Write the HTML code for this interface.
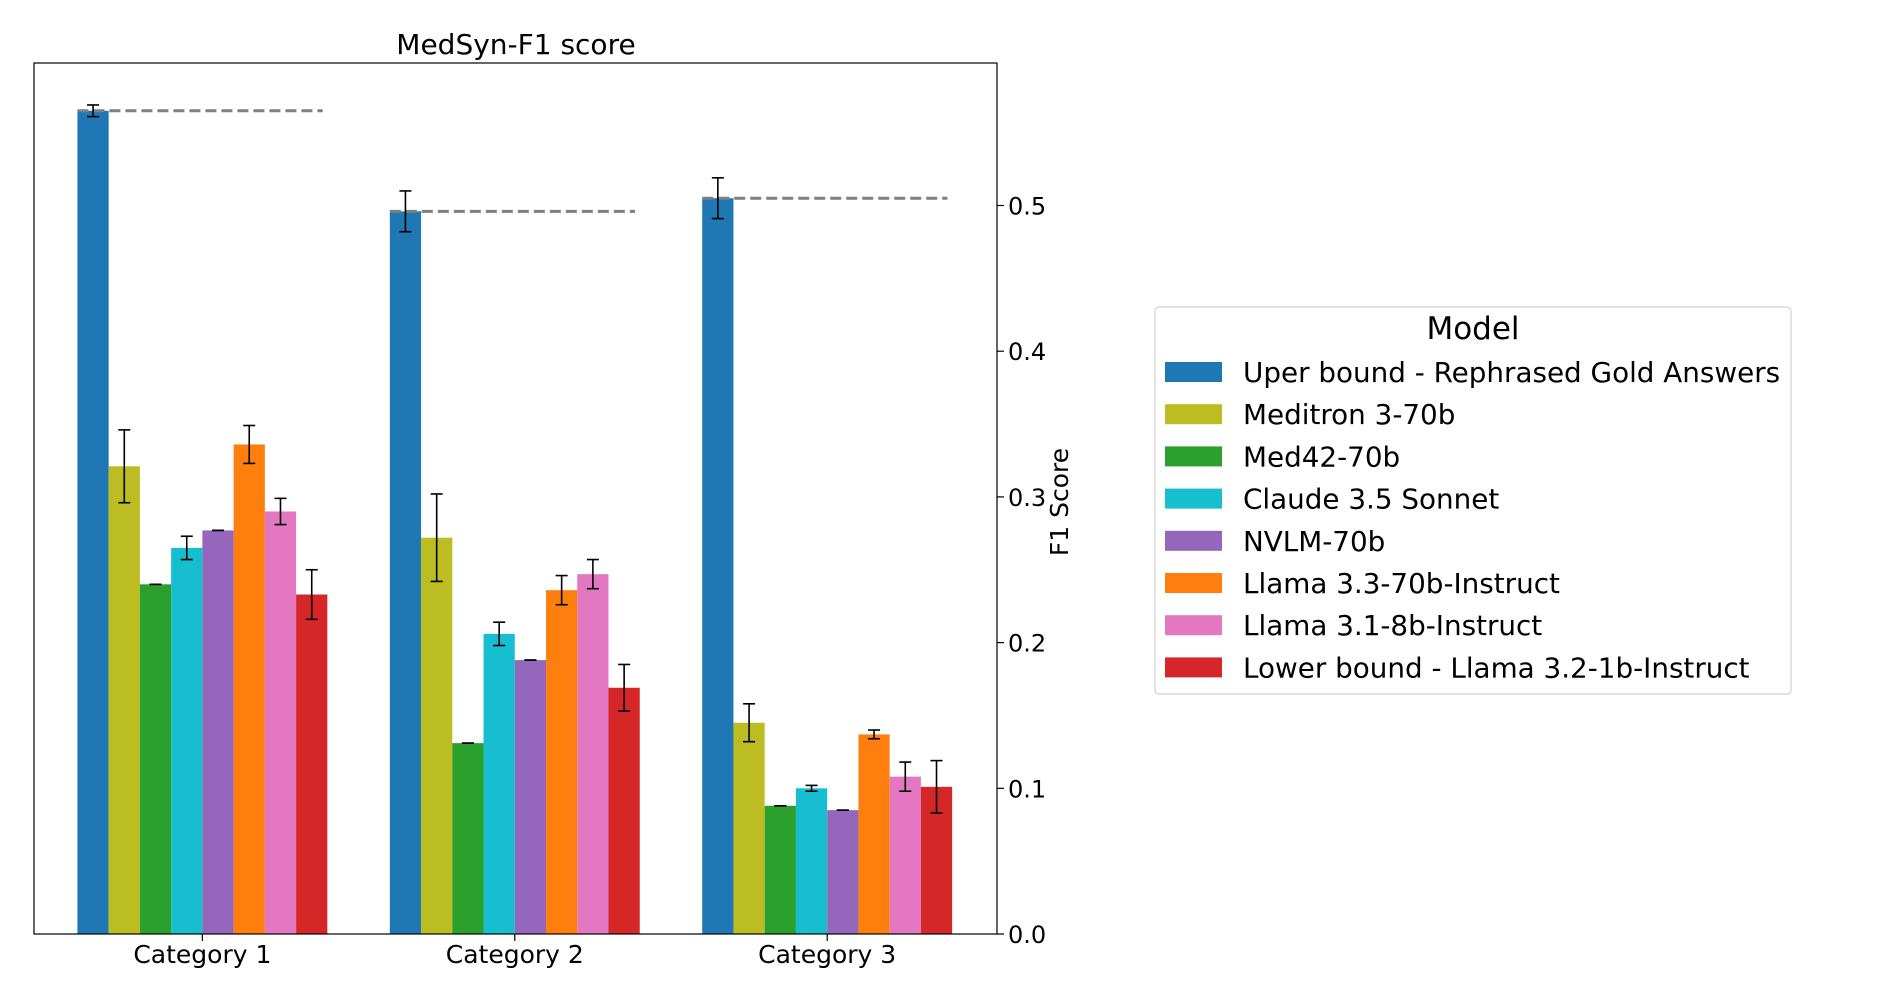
<!DOCTYPE html>
<html><head><meta charset="utf-8"><style>
body{margin:0;background:#fff;}
svg text{font-family:"DejaVu Sans","Liberation Sans",sans-serif;fill:#000;}
</style></head><body>
<svg id="chart" width="1900" height="1000" viewBox="0 0 1900 1000" xmlns="http://www.w3.org/2000/svg">
<text x="516" y="54" text-anchor="middle" font-size="28">MedSyn-F1 score</text>
<g id="bars"></g>
<g id="axes"></g>
<text transform="translate(1068,502) rotate(-90)" text-anchor="middle" font-size="25">F1 Score</text>
<g id="legend"></g>
</svg>
<script>
const categories = ["Category 1","Category 2","Category 3"];
const models = ["Uper bound - Rephrased Gold Answers","Meditron 3-70b","Med42-70b","Claude 3.5 Sonnet","NVLM-70b","Llama 3.3-70b-Instruct","Llama 3.1-8b-Instruct","Lower bound - Llama 3.2-1b-Instruct"];
const colors = ["#1f77b4","#bcbd22","#2ca02c","#17becf","#9467bd","#ff7f0e","#e377c2","#d62728"];
const valuesCat1 = [0.565,0.321,0.240,0.265,0.277,0.336,0.290,0.233];
const valuesCat2 = [0.496,0.272,0.131,0.206,0.188,0.236,0.247,0.169];
const valuesCat3 = [0.505,0.145,0.088,0.100,0.085,0.137,0.108,0.101];
const errCat1 = [0.004,0.025,0,0.008,0,0.013,0.009,0.017];
const errCat2 = [0.014,0.030,0,0.008,0,0.010,0.010,0.016];
const errCat3 = [0.014,0.013,0,0.002,0,0.003,0.010,0.018];
const yTicks = [0.0,0.1,0.2,0.3,0.4,0.5];
const yTickLabels = ["0.0","0.1","0.2","0.3","0.4","0.5"];

const values=[valuesCat1,valuesCat2,valuesCat3], errs=[errCat1,errCat2,errCat3];
const L=34,R=997,T=63,B=934, xmin=-0.539, xmax=2.5436, ymax=(B-T)/1457;
const NS="http://www.w3.org/2000/svg";
const X=v=>L+(v-xmin)/(xmax-xmin)*(R-L);
const Y=v=>B-v/ymax*(B-T);
function mk(tag,attrs,parent){const e=document.createElementNS(NS,tag);for(const k in attrs)e.setAttribute(k,attrs[k]);parent.appendChild(e);return e;}
const bars=document.getElementById('bars'), axes=document.getElementById('axes'), leg=document.getElementById('legend');
const bw=0.1;
categories.forEach((c,ci)=>{
  values[ci].forEach((v,mi)=>{
    const x0=ci-0.4+mi*bw;
    const r=mk('rect',{x:X(x0),y:Y(v),width:X(x0+bw)-X(x0),height:Y(0)-Y(v),fill:colors[mi]},bars);
    
    
  });
  const ub=values[ci][0];
  const d=mk('line',{x1:X(ci-0.4),x2:X(ci+0.385),y1:Y(ub),y2:Y(ub),stroke:'#7f7f7f','stroke-width':3,'stroke-dasharray':'11 5'},bars);
  
  
  values[ci].forEach((v,mi)=>{
    const xc=X(ci-0.4+(mi+0.5)*bw), e=errs[ci][mi];
    const g=mk('g',{stroke:'#000','stroke-width':1.6},bars);
    
    
    mk('line',{x1:xc,x2:xc,y1:Y(v-e),y2:Y(v+e)},g);
    mk('line',{x1:xc-6,x2:xc+6,y1:Y(v-e),y2:Y(v-e)},g);
    mk('line',{x1:xc-6,x2:xc+6,y1:Y(v+e),y2:Y(v+e)},g);
  });
  const tk=mk('line',{x1:X(ci),x2:X(ci),y1:B,y2:B+7,stroke:'#000','stroke-width':1.2},axes);
  
  
  const t=mk('text',{x:X(ci),y:B+29,'text-anchor':'middle','font-size':25},axes);
  
  
  t.textContent=c;
});
const fr=mk('rect',{x:L,y:T,width:R-L,height:B-T,fill:'none',stroke:'#000','stroke-width':1.2},axes);


yTicks.forEach((v,i)=>{
  const tk=mk('line',{x1:R,x2:R+7,y1:Y(v),y2:Y(v),stroke:'#000','stroke-width':1.2},axes);
  
  
  const t=mk('text',{x:R+11,y:Y(v)+9,'font-size':24},axes);
  
  
  t.textContent=yTickLabels[i];
});
const box=mk('rect',{x:1155,y:307,width:636,height:387,rx:4,fill:'#fff',stroke:'#d0d0d0','stroke-width':1.2},leg);


const lt=mk('text',{x:1473,y:339,'text-anchor':'middle','font-size':31},leg);


lt.textContent='Model';
models.forEach((m,i)=>{
  const y=372+i*42.2;
  const g=mk('g',{},leg);
  
  
  mk('rect',{x:1165,y:y-10,width:57,height:20,fill:colors[i]},g);
  const t=mk('text',{x:1243,y:y+10,'font-size':27.8},g);
  t.textContent=m;
});
</script>
</body></html>
